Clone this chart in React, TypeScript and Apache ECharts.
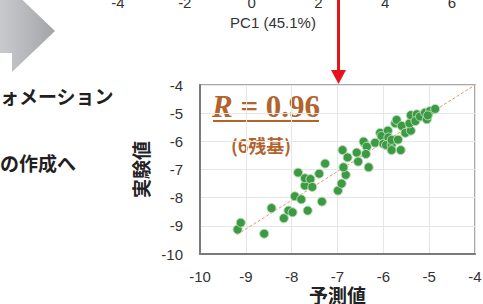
import React, { useEffect, useRef } from "react";
import * as echarts from "echarts";

const predicted = [
  -9.18, -9.11, -8.6, -8.44, -8.17, -8.07, -7.98, -7.93, -7.79, -7.65,
  -7.34, -7.86, -7.71, -7.71, -7.59, -7.55, -7.4, -7.27, -6.99, -6.91,
  -6.82, -6.87, -6.89, -6.78, -6.58, -6.55, -6.41, -6.43, -6.36, -6.38,
  -6.32, -6.18, -6.07, -6.04, -6.0, -5.9, -5.89, -5.94, -5.82, -5.82,
  -5.68, -5.62, -5.82, -5.74, -5.71, -5.6, -5.52, -5.4, -5.43, -5.4,
  -5.27, -5.3, -5.2, -5.05, -5.09, -4.98, -4.87, -5.03,
];
const measured = [
  -9.13, -8.89, -9.28, -8.37, -8.73, -8.46, -8.52, -7.95, -8.06, -8.46,
  -8.14, -7.11, -7.57, -7.31, -7.34, -7.62, -7.15, -6.79, -7.75, -7.5,
  -7.19, -6.92, -6.31, -6.57, -6.4, -6.72, -6.07, -6.01, -6.19, -6.45,
  -6.92, -6.05, -5.7, -5.81, -6.09, -5.62, -5.86, -6.13, -6.13, -5.95,
  -5.94, -6.31, -6.31, -5.36, -5.24, -5.45, -5.7, -5.62, -5.36, -5.07,
  -5.04, -5.28, -5.12, -5.22, -4.98, -4.92, -4.85, -5.08,
];
const fitX = [-9.2, -4];
const fitY = [-9.32, -4];
const pcTicks = [-4, -2, 0, 2, 4, 6];

const BROWN = "#b3632c";
const SANS = "'Liberation Sans', Arial, sans-serif";
const CJK = "'Noto Sans CJK JP', sans-serif";
const SERIF = "'Liberation Serif', serif";

export default function App() {
  const ref = useRef<HTMLDivElement>(null);
  useEffect(() => {
    if (!ref.current) return;
    const chart = echarts.init(ref.current, undefined, { renderer: "svg" });
    const points = predicted.map((p, i) => [p, measured[i]]);
    const fit = fitX.map((x, i) => [x, fitY[i]]);
    chart.setOption({
      animation: false,
      backgroundColor: "#ffffff",
      grid: [
        {
          left: 200, top: 85, width: 275, height: 169,
          outerBoundsMode: "none", containLabel: false,
          show: true, backgroundColor: "#ffffff",
          borderColor: "#8c8c8c", borderWidth: 1.5,
        },
        { left: 51.2, top: -75, width: 467.6, height: 60, outerBoundsMode: "none", containLabel: false },
      ],
      xAxis: [
        {
          gridIndex: 0, type: "value", min: -10, max: -4, interval: 1,
          axisLine: { show: true, onZero: false, lineStyle: { color: "#7a7a7a", width: 2 } },
          axisTick: { show: false },
          axisLabel: { fontSize: 15, lineHeight: 15, color: "#333", fontFamily: SANS, margin: 15 },
          splitLine: { show: true, lineStyle: { color: "#e6e6e6", width: 1 } },
          name: "予測値", nameLocation: "middle", nameGap: 30.5, nameMoveOverlap: false,
          nameTextStyle: { fontSize: 19, fontWeight: "bold", color: "#222", fontFamily: CJK },
        },
        {
          gridIndex: 1, type: "value", min: -6, max: 8, interval: 2,
          axisLine: { show: false }, axisTick: { show: false },
          splitLine: { show: false },
          axisLabel: {
            fontSize: 15, color: "#333", fontFamily: SANS, margin: 10,
            showMinLabel: false, showMaxLabel: false,
            formatter: (v: number) => (pcTicks.includes(v) ? String(v) : ""),
          },
          name: "PC1 (45.1%)", nameLocation: "middle", nameGap: 30,
          nameTextStyle: { fontSize: 15, color: "#333", fontFamily: SANS, padding: [0, 24, 0, 0] },
        },
      ],
      yAxis: [
        {
          gridIndex: 0, type: "value", min: -10, max: -4, interval: 1,
          axisLine: { show: true, onZero: false, lineStyle: { color: "#7a7a7a", width: 2 } },
          axisTick: { show: false },
          axisLabel: { fontSize: 15, color: "#333", fontFamily: SANS, margin: 17 },
          splitLine: { show: true, lineStyle: { color: "#e6e6e6", width: 1 } },
          name: "実験値", nameLocation: "middle", nameGap: 42,
          nameTextStyle: { fontSize: 19, fontWeight: "bold", color: "#222", fontFamily: CJK },
        },
        { gridIndex: 1, type: "value", show: false, min: 0, max: 1 },
      ],
      series: [
        {
          type: "line", xAxisIndex: 0, yAxisIndex: 0, data: fit,
          symbol: "none", z: 1,
          lineStyle: { color: "#e8956a", width: 1, type: [3, 2] },
        },
        {
          type: "scatter", xAxisIndex: 0, yAxisIndex: 0, data: points,
          symbolSize: 9, z: 2,
          itemStyle: { color: "#3d9a44", borderColor: "#b9ddb4", borderWidth: 1, opacity: 1 },
        },
      ],
      graphic: [
        {
          type: "polygon",
          shape: { points: [[0, -8], [12, -8], [12, -10], [55, 31], [12, 72], [12, 53], [0, 53]] },
          style: {
            fill: new echarts.graphic.LinearGradient(0, 0, 1, 0, [
              { offset: 0, color: "#c9cacd" },
              { offset: 1, color: "#a3a4a8" },
            ]),
          },
        },
        {
          type: "text", x: 0, y: 95,
          style: { text: "ォメーション", fontSize: 19, fontWeight: "bold", fill: "#231f20", fontFamily: CJK, verticalAlign: "middle" },
        },
        {
          type: "text", x: 0, y: 162,
          style: { text: "の作成へ", fontSize: 19, fontWeight: "bold", fill: "#231f20", fontFamily: CJK, verticalAlign: "middle" },
        },
        {
          type: "line", shape: { x1: 338.5, y1: 0, x2: 338.5, y2: 71 },
          style: { stroke: "#e3141b", lineWidth: 3 },
        },
        {
          type: "polygon", shape: { points: [[331, 70], [346, 70], [338.5, 84]] },
          style: { fill: "#e3141b" },
        },
        {
          type: "text", x: 212, y: 106,
          style: {
            text: "{i|R} {n|= 0.96}",
            verticalAlign: "middle",
            rich: {
              i: { fontSize: 31, fontStyle: "italic", fontWeight: "bold", fill: BROWN, fontFamily: SERIF },
              n: { fontSize: 31, fontWeight: "bold", fill: BROWN, fontFamily: SERIF },
            },
            fill: BROWN, fontSize: 31, fontFamily: SERIF,
          },
        },
        {
          type: "line", shape: { x1: 213, y1: 121, x2: 319, y2: 121 },
          style: { stroke: BROWN, lineWidth: 2 },
        },
        {
          type: "text", x: 261, y: 145,
          style: { text: "(6残基)", fontSize: 18, fontWeight: "bold", fill: BROWN, fontFamily: CJK, align: "center", verticalAlign: "middle" },
        },
      ],
    });
    return () => chart.dispose();
  }, []);
  return (
    <div
      ref={ref}
      style={{ position: "fixed", left: 0, top: 0, width: 483, height: 304 }}
    />
  );
}
